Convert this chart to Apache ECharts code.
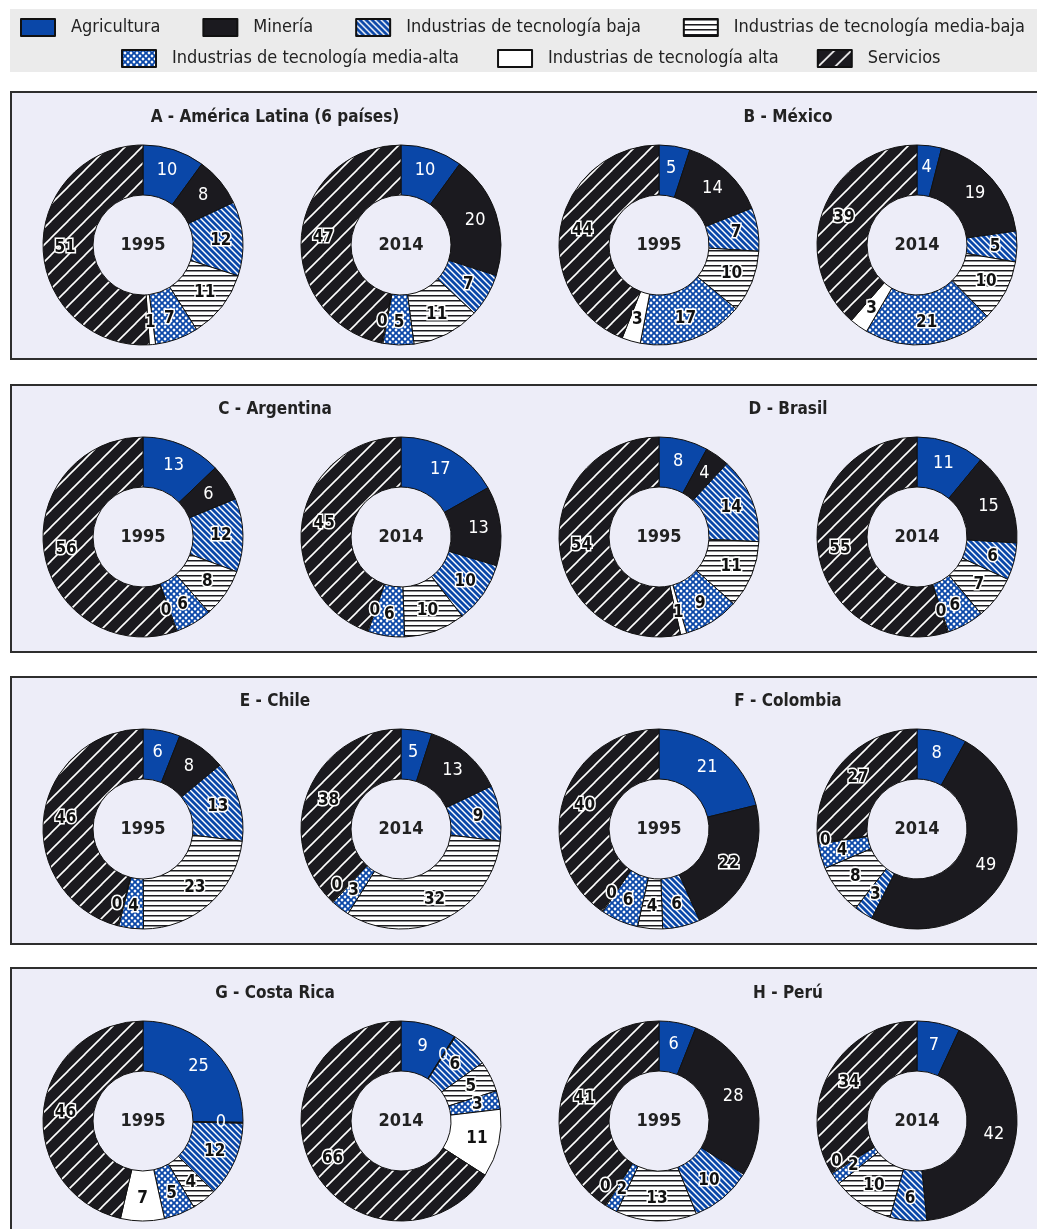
<!DOCTYPE html>
<html>
<head>
<meta charset="utf-8">
<script src="https://cdn.jsdelivr.net/npm/echarts@6/dist/echarts.min.js"></script>
<style>
  html, body { margin: 0; padding: 0; background: #fff; }
  #chart { width: 1037px; height: 1229px; }
</style>
</head>
<body>
<div id="chart"></div>
<script>
const categories = ['Agricultura', 'Minería', 'Industrias de tecnología baja', 'Industrias de tecnología media-baja',
  'Industrias de tecnología media-alta', 'Industrias de tecnología alta', 'Servicios'];
const panelTitles = ['A - América Latina (6 países)', 'B - México', 'C - Argentina', 'D - Brasil',
  'E - Chile', 'F - Colombia', 'G - Costa Rica', 'H - Perú'];
const years = ['1995', '2014'];

// shares in %, same order as categories
const latam1995 = [10, 8, 12, 11, 7, 1, 51];
const latam2014 = [10, 20, 7, 11, 5, 0, 47];
const mexico1995 = [5, 14, 7, 10, 17, 3, 44];
const mexico2014 = [4, 19, 5, 10, 21, 3, 39];
const argentina1995 = [13, 6, 12, 8, 6, 0, 56];
const argentina2014 = [17, 13, 10, 10, 6, 0, 45];
const brasil1995 = [8, 4, 14, 11, 9, 1, 54];
const brasil2014 = [11, 15, 6, 7, 6, 0, 55];
const chile1995 = [6, 8, 13, 23, 4, 0, 46];
const chile2014 = [5, 13, 9, 32, 3, 0, 38];
const colombia1995 = [21, 22, 6, 4, 6, 0, 40];
const colombia2014 = [8, 49, 3, 8, 4, 0, 27];
const costaRica1995 = [25, 0, 12, 4, 5, 7, 46];
const costaRica2014 = [9, 0, 6, 5, 3, 11, 66];
const peru1995 = [6, 28, 10, 13, 2, 0, 41];
const peru2014 = [7, 42, 6, 10, 2, 0, 34];

const panelValues = [
  [latam1995, latam2014], [mexico1995, mexico2014],
  [argentina1995, argentina2014], [brasil1995, brasil2014],
  [chile1995, chile2014], [colombia1995, colombia2014],
  [costaRica1995, costaRica2014], [peru1995, peru2014]
];

const FONT = "'Liberation Sans Narrow', 'DejaVu Sans Condensed', 'Roboto Condensed', 'Liberation Sans', sans-serif";
const BLUE = '#0a47a8';
const BLACK = '#1b1a1f';

function tile(w, h, draw) {
  const c = document.createElement('canvas');
  c.width = w; c.height = h;
  draw(c.getContext('2d'), w, h);
  return { image: c, repeat: 'repeat' };
}
function diagonal(size, bg, fg, lw, forward) {
  return tile(size, size, (ctx, s) => {
    ctx.fillStyle = bg; ctx.fillRect(0, 0, s, s);
    ctx.strokeStyle = fg; ctx.lineWidth = lw;
    const segs = forward
      ? [[0, s, s, 0], [-s, s, s, -s], [0, 2 * s, 2 * s, 0]]
      : [[0, 0, s, s], [-s, 0, s, 2 * s], [0, -s, 2 * s, s]];
    segs.forEach(p => { ctx.beginPath(); ctx.moveTo(p[0], p[1]); ctx.lineTo(p[2], p[3]); ctx.stroke(); });
  });
}
const fills = [
  BLUE,
  BLACK,
  diagonal(6, BLUE, '#fff', 1.4, false),
  tile(5, 5, (ctx, w, h) => { ctx.fillStyle = '#fff'; ctx.fillRect(0, 0, w, h); ctx.fillStyle = BLACK; ctx.fillRect(0, 0, w, 1.5); }),
  tile(6, 6, (ctx, w, h) => {
    ctx.fillStyle = BLUE; ctx.fillRect(0, 0, w, h);
    ctx.fillStyle = '#fff';
    [[3, 3], [0, 0], [6, 0], [0, 6], [6, 6]].forEach(p => {
      ctx.beginPath(); ctx.moveTo(p[0], p[1] - 1.7); ctx.lineTo(p[0] + 1.7, p[1]);
      ctx.lineTo(p[0], p[1] + 1.7); ctx.lineTo(p[0] - 1.7, p[1]); ctx.closePath(); ctx.fill();
    });
  }),
  '#ffffff',
  diagonal(17, BLACK, '#fff', 1.6, true)
];

const colX = [143, 401, 659, 917];
const rowY = [245, 537, 829, 1121];
const panelTop = [92, 385, 677, 968];

const plainLabel = { color: '#fff', fontWeight: 'normal', fontSize: 18, fontFamily: FONT };
const boldLabel = { color: '#111', fontWeight: 'bold', fontSize: 17, fontFamily: FONT, textBorderColor: '#fff', textBorderWidth: 3 };

// zero-share labels sit on a slice border; nudge them sideways when they hit the neighbour label
const seenRects = {};
function nudgeZero(params) {
  const rects = seenRects[params.seriesIndex] = seenRects[params.seriesIndex] || [];
  const r = params.labelRect;
  rects[params.dataIndex] = r;
  const vals = panelValues[Math.floor(params.seriesIndex / 2)][params.seriesIndex % 2];
  const prev = rects[params.dataIndex - 1];
  if (vals[params.dataIndex] !== 0 || !prev) return { hideOverlap: false };
  const ox = Math.min(r.x + r.width, prev.x + prev.width) - Math.max(r.x, prev.x);
  const oy = Math.min(r.y + r.height, prev.y + prev.height) - Math.max(r.y, prev.y);
  if (ox <= 0 || oy <= 0) return { hideOverlap: false };
  const left = r.x + r.width / 2 <= prev.x + prev.width / 2;
  return { hideOverlap: false, dx: (left ? -1 : 1) * (ox + 3) };
}

const series = [];
const titles = [];
panelValues.forEach((pair, p) => {
  const row = Math.floor(p / 2), side = p % 2;
  titles.push({
    text: panelTitles[p], left: side ? 788 : 275, top: rowY[row] - 127, padding: 0,
    textAlign: 'center', textVerticalAlign: 'middle',
    textStyle: { fontFamily: FONT, fontSize: 17, fontWeight: 'bold', color: '#222' }
  });
  pair.forEach((vals, k) => {
    const cx = colX[side * 2 + k], cy = rowY[row];
    titles.push({
      text: years[k], left: cx, top: cy, padding: 0, textAlign: 'center', textVerticalAlign: 'middle',
      textStyle: { fontFamily: FONT, fontSize: 18, fontWeight: 'bold', color: '#222' }
    });
    series.push({
      type: 'pie',
      center: [cx, cy],
      radius: [50, 100],
      startAngle: 90,
      clockwise: true,
      minAngle: 0.6,
      minShowLabelAngle: 0,
      avoidLabelOverlap: false,
      labelLayout: nudgeZero,
      emphasis: { disabled: true },
      itemStyle: { borderColor: '#111', borderWidth: 1 },
      label: { show: true, position: 'inside', formatter: '{c}' },
      labelLine: { show: false },
      data: vals.map((v, i) => ({
        name: categories[i],
        value: v,
        itemStyle: { color: fills[i] },
        label: (i < 2 && !(p === 5 && k === 0 && i === 1)) ? plainLabel : boldLabel
      }))
    });
  });
});

const graphics = [{
  type: 'rect', shape: { x: 10, y: 9, width: 1040, height: 63 },
  style: { fill: '#ebebeb' }, silent: true
}];
panelTop.forEach((t, r) => {
  graphics.push({
    type: 'rect', shape: { x: 11, y: t, width: 1040, height: r === 3 ? 300 : 267 },
    style: { fill: '#ededf8', stroke: '#2e2e2e', lineWidth: 2 }, silent: true
  });
});

const legendBase = {
  width: 1030, itemWidth: 34, itemHeight: 17, icon: 'rect', selectedMode: false,
  textStyle: { fontFamily: FONT, fontSize: 18, color: '#222', padding: [0, 0, 0, 11] }
};

const chart = echarts.init(document.getElementById('chart'));
chart.setOption({
  animation: false,
  backgroundColor: '#fff',
  graphic: graphics,
  title: titles,
  legend: [
    Object.assign({}, legendBase, { left: 15, itemGap: 42, top: 13, data: categories.slice(0, 4) }),
    Object.assign({}, legendBase, { left: 116, itemGap: 38, top: 44, data: categories.slice(4) })
  ],
  series: series
});
</script>
</body>
</html>
